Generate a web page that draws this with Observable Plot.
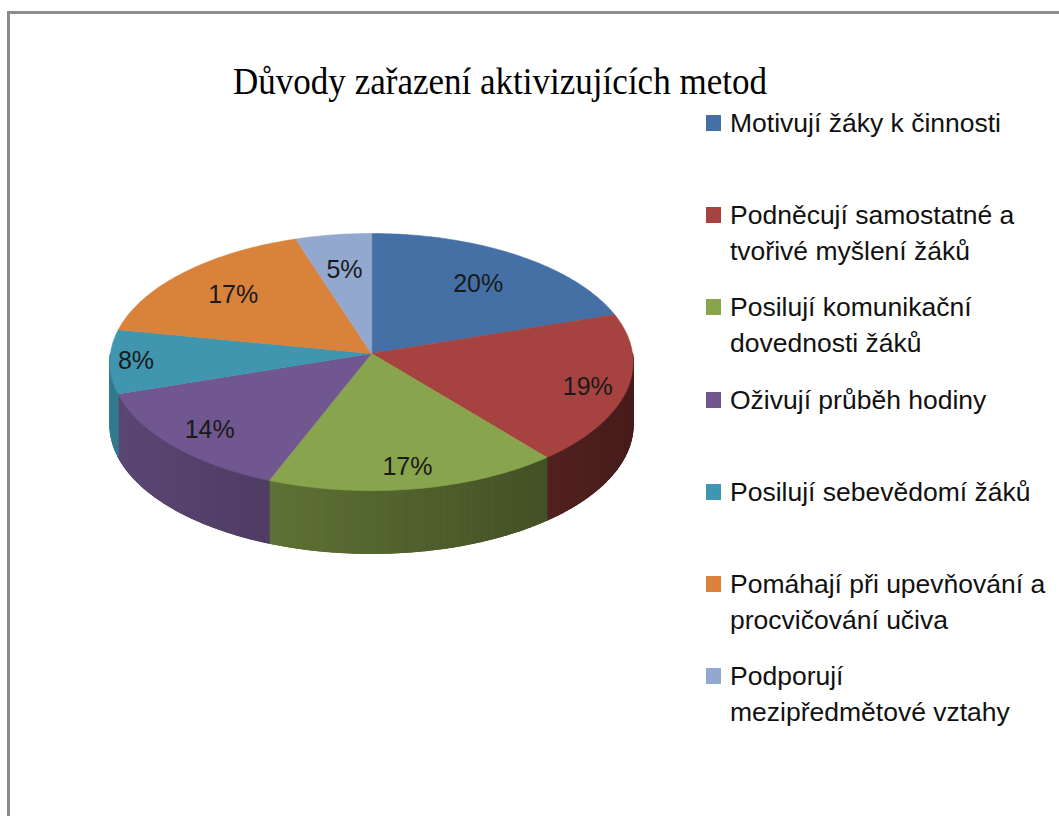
<!DOCTYPE html>
<html>
<head>
<meta charset="utf-8">
<script src="https://cdn.jsdelivr.net/npm/d3@7"></script>
<script src="https://cdn.jsdelivr.net/npm/@observablehq/plot@0.6"></script>
<style>
  html, body { margin: 0; padding: 0; background: #fff; }
  #page { position: relative; width: 1059px; height: 816px; overflow: hidden; background: #fff; }
  #frameTop { position: absolute; left: 7px; top: 11px; width: 1052px; height: 3px; background: #8c8c8c; }
  #frameLeft { position: absolute; left: 7px; top: 11px; width: 3px; height: 805px; background: #8c8c8c; }
  #title { position: absolute; left: 233px; top: 0; font-family: "Liberation Serif", "Times New Roman", serif; font-size: 38px; line-height: 38px; color: #000; white-space: nowrap; transform-origin: 0 0; }
  .item { position: absolute; left: 706px; }
  .sw { position: absolute; left: 0; width: 15px; height: 16px; }
  .lt { position: absolute; left: 24px; font-family: "Liberation Sans", Arial, sans-serif; font-size: 26.5px; line-height: 36px; color: #111; white-space: nowrap; }
  #chart { position: absolute; left: 0; top: 0; }
</style>
</head>
<body>
<div id="page">
  <div id="chart"></div>
  <div id="frameTop"></div>
  <div id="frameLeft"></div>
  <div id="title"></div>
  <div id="legend"></div>
</div>
<script>
// ---- data ----
const titleText = "Důvody zařazení aktivizujících metod";
const categories = [
  "Motivují žáky k činnosti",
  "Podněcují samostatné a tvořivé myšlení žáků",
  "Posilují komunikační dovednosti žáků",
  "Oživují průběh hodiny",
  "Posilují sebevědomí žáků",
  "Pomáhají při upevňování a procvičování učiva",
  "Podporují mezipředmětové vztahy"
];
const legendLines = [
  ["Motivují žáky k činnosti"],
  ["Podněcují samostatné a", "tvořivé myšlení žáků"],
  ["Posilují komunikační", "dovednosti žáků"],
  ["Oživují průběh hodiny"],
  ["Posilují sebevědomí žáků"],
  ["Pomáhají při upevňování a", "procvičování učiva"],
  ["Podporují", "mezipředmětové vztahy"]
];
const values = [20, 19, 17, 14, 8, 17, 5];
const colors = ["#4470a6", "#a6423f", "#88a44c", "#71578f", "#3f96ae", "#d9823c", "#93a8cf"];

// ---- geometry (3D pie with slight perspective) ----
const W = 1059, H = 816;
const cx = 371, cy = 353, Rx = 261, Ry = 128;
const D = 15;          // perspective distance (in radius units)
const depth = 0.49;    // thickness in y units
const total = d3.sum(values);

function proj(theta, r) {
  const X = r * Math.sin(theta), Z = -r * Math.cos(theta);
  const s = D / (D - Z);
  return [X * s, Z * s];
}
function shade(hex, f) {
  const c = d3.rgb(hex);
  return d3.rgb(c.r * f, c.g * f, c.b * f).formatHex();
}
const light = t => 0.62 - 0.2 * Math.sin(t);

let acc = 0;
const slices = values.map((v, i) => {
  const a0 = acc / total * 2 * Math.PI;
  acc += v;
  const a1 = acc / total * 2 * Math.PI;
  return {i, v, a0, a1, color: colors[i], label: v + "%"};
});

const topRows = [];
const sideBase = [];
const sideRows = [];
const step = Math.PI / 180;
for (const s of slices) {
  // top face
  topRows.push({id: "t" + s.i, x: 0, y: 0, color: s.color});
  const n = Math.max(2, Math.ceil((s.a1 - s.a0) / step));
  for (let k = 0; k <= n; k++) {
    const t = s.a0 + (s.a1 - s.a0) * k / n;
    const [x, y] = proj(t, 1);
    topRows.push({id: "t" + s.i, x, y, color: s.color});
  }
  // visible front side
  const lo = Math.max(s.a0, Math.PI / 2), hi = Math.min(s.a1, 3 * Math.PI / 2);
  if (lo < hi) {
    const m = Math.max(1, Math.ceil((hi - lo) / (1.5 * step)));
    const baseCol = shade(s.color, light((lo + hi) / 2));
    const upper = [], lower = [];
    for (let k = 0; k <= m; k++) {
      const t = lo + (hi - lo) * k / m;
      const [x, y] = proj(t, 1);
      upper.push({id: "b" + s.i, x, y, color: baseCol});
      lower.push({id: "b" + s.i, x, y: y + depth, color: baseCol});
    }
    sideBase.push(...upper, ...lower.reverse());
    for (let k = 0; k < m; k++) {
      const t0 = lo + (hi - lo) * k / m, t1 = lo + (hi - lo) * (k + 1) / m;
      const col = shade(s.color, light((t0 + t1) / 2));
      const id = "s" + s.i + "_" + k;
      const [x0, y0] = proj(t0, 1), [x1, y1] = proj(t1, 1);
      sideRows.push({id, x: x0, y: y0, color: col});
      sideRows.push({id, x: x1, y: y1, color: col});
      sideRows.push({id, x: x1, y: y1 + depth, color: col});
      sideRows.push({id, x: x0, y: y0 + depth, color: col});
    }
  }
}

// labels: along the direction of each slice's chord midpoint,
// further out for front/side slices (best-fit style)
const labelRows = slices.map(s => {
  const [x0, y0] = proj(s.a0, 1), [x1, y1] = proj(s.a1, 1);
  const mx = (x0 + x1) / 2, my = (y0 + y1) / 2;
  const th = Math.atan2(mx, -my);
  const f = 0.77 - 0.08 * Math.cos(th) + 0.13 * Math.pow(Math.sin(th), 16);
  const [x, y] = proj(th, f);
  return {x, y, text: s.label};
});

const chart = Plot.plot({
  width: W,
  height: H,
  margin: 0,
  x: {domain: [-1, 1], range: [cx - Rx, cx + Rx], axis: null},
  y: {domain: [-1, 1], range: [cy - Ry, cy + Ry], axis: null},
  color: {type: "identity"},
  style: {background: "transparent", overflow: "visible"},
  marks: [
    Plot.line(sideBase, {x: "x", y: "y", z: "id", fill: "color", stroke: "color", strokeWidth: 1, curve: "linear-closed"}),
    Plot.line(sideRows, {x: "x", y: "y", z: "id", fill: "color", stroke: "color", strokeWidth: 1.2, curve: "linear-closed"}),
    Plot.line(topRows, {x: "x", y: "y", z: "id", fill: "color", stroke: "color", strokeWidth: 0.6, curve: "linear-closed"}),
    Plot.text(labelRows, {x: "x", y: "y", text: "text", fontSize: 25, fontFamily: "Liberation Sans, Arial, sans-serif", fill: "#1a1a1a"})
  ]
});
document.getElementById("chart").appendChild(chart);

// ---- title ----
const title = document.getElementById("title");
title.textContent = titleText;
title.style.top = (95 - 33) + "px";
const tw = title.getBoundingClientRect().width;
title.style.transform = `scaleX(${534 / tw})`;

// ---- legend ----
const legend = document.getElementById("legend");
const firstBaseline = 132, slot = 92.2, lineGap = 36;
legendLines.forEach((lines, i) => {
  const base = firstBaseline + i * slot;
  const item = document.createElement("div");
  item.className = "item";
  item.style.top = "0px";
  const sw = document.createElement("div");
  sw.className = "sw";
  sw.style.background = colors[i];
  sw.style.top = (base - 17) + "px";
  item.appendChild(sw);
  lines.forEach((ln, j) => {
    const t = document.createElement("div");
    t.className = "lt";
    t.textContent = ln;
    t.style.top = (base + j * lineGap - 27) + "px";
    item.appendChild(t);
  });
  legend.appendChild(item);
});
</script>
</body>
</html>
